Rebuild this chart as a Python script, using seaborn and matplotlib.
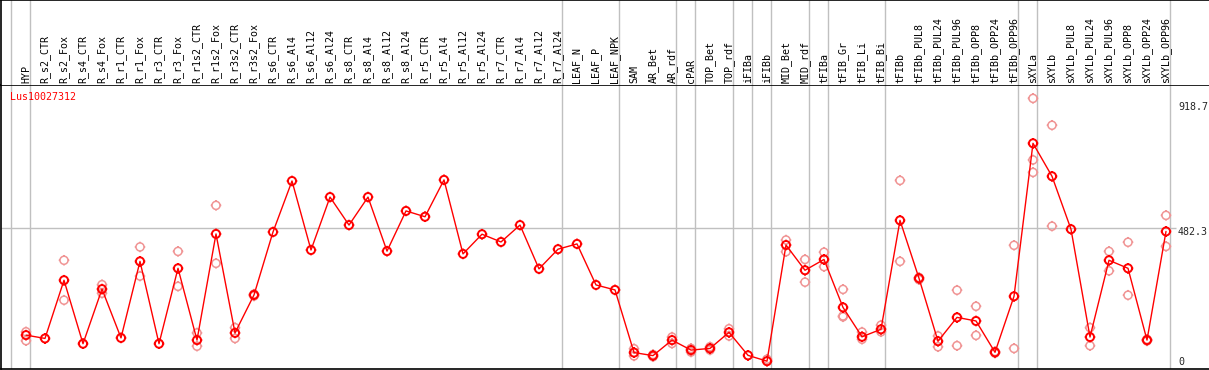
import numpy as np
import pandas as pd
import matplotlib
matplotlib.use("Agg")
import matplotlib.pyplot as plt
from matplotlib.path import Path
import seaborn as sns

categories = ["HYP", "R_s2_CTR", "R_s2_Fox", "R_s4_CTR", "R_s4_Fox", "R_r1_CTR", "R_r1_Fox",
              "R_r3_CTR", "R_r3_Fox", "R_r1s2_CTR", "R_r1s2_Fox", "R_r3s2_CTR", "R_r3s2_Fox",
              "R_s6_CTR", "R_s6_Al4", "R_s6_Al12", "R_s6_Al24", "R_s8_CTR", "R_s8_Al4", "R_s8_Al12",
              "R_s8_Al24", "R_r5_CTR", "R_r5_Al4", "R_r5_Al12", "R_r5_Al24", "R_r7_CTR", "R_r7_Al4",
              "R_r7_Al12", "R_r7_Al24", "LEAF_N", "LEAF_P", "LEAF_NPK", "SAM", "AR_Bet", "AR_rdf",
              "cPAR", "TOP_Bet", "TOP_rdf", "iFIBa", "iFIBb", "MID_Bet", "MID_rdf", "tFIBa",
              "tFIB_Gr", "tFIB_Li", "tFIB_Bi", "tFIBb", "tFIBb_PUL8", "tFIBb_PUL24", "tFIBb_PUL96",
              "tFIBb_OPP8", "tFIBb_OPP24", "tFIBb_OPP96", "sXYLa", "sXYLb", "sXYLb_PUL8",
              "sXYLb_PUL24", "sXYLb_PUL96", "sXYLb_OPP8", "sXYLb_OPP24", "sXYLb_OPP96"]

mean_values = [97, 85, 295, 66, 263, 87, 363, 66, 338, 79, 462, 105, 242,
               469, 653, 404, 595, 494, 595, 400, 545, 524, 657, 390, 461, 433, 494, 336, 407,
               426, 278, 260, 34, 23, 79, 43, 49, 107, 24, 3, 422, 331, 370, 197, 91, 118,
               511, 302, 75, 161, 148, 35, 237, 789, 670, 479, 90, 367, 338, 79, 471]

nan = np.nan
rep_a = [109, nan, 367, nan, 279, nan, 415, nan, 399, 105, 565, 124, 245,
         nan, nan, nan, nan, nan, nan, nan, nan, nan, nan, nan, nan, nan, nan, nan, nan,
         nan, nan, nan, 48, 27, 90, 49, 55, 120, nan, 10, 440, 370, 396, 262, 108, 133,
         655, 305, 94, 259, 201, 38, 421, 951, 854, nan, 124, 399, 432, 82, 529]
rep_b = [77, nan, 223, nan, 248, nan, 310, nan, 273, 57, 356, 85, 238,
         nan, nan, nan, nan, nan, nan, nan, nan, nan, nan, nan, nan, nan, nan, nan, nan,
         nan, nan, nan, 22, 19, 67, 36, 43, 94, nan, nan, 398, 288, 344, 166, 82, 109,
         363, 297, 55, 59, 96, 32, 49, 729, 490, nan, 59, 329, 241, 76, 417]
rep_c = [nan] * 43 + [163] + [nan] * 9 + [684] + [nan] * 7

# group separators: drawn just after these category indices
separator_after = [-1, 0, 28, 31, 34, 35, 37, 38, 39, 41, 42, 45, 52, 53, 60]
axis_top_label = 918.7
axis_mid_label = 482.3
title = "Lus10027312"

W, H = 1209, 370
fig = plt.figure(figsize=(W / 100, H / 100), dpi=100)
sns.set_style("white")
plt.rcParams["font.family"] = ["DejaVu Sans Mono", "DejaVu Sans"]

ax = fig.add_axes([1 / W, 1 / H, (W - 1) / W, 284 / H])
ax_top = fig.add_axes([1 / W, 285 / H, (W - 1) / W, 85 / H], sharex=ax)

x = np.arange(len(categories))
df_mean = pd.DataFrame({"x": x, "v": mean_values})
reps = []
for r in (rep_a, rep_b, rep_c):
    reps.append(pd.DataFrame({"x": x, "v": r}))
df_rep = pd.concat(reps).dropna()

# custom marker: polygonal circle with short ticks
n = 40
ang = np.linspace(0, 2 * np.pi, n + 1)
r0 = 0.76
cv = np.column_stack([r0 * np.cos(ang), r0 * np.sin(ang)])
cc = [Path.MOVETO] + [Path.LINETO] * n
tv = [(0, r0), (0, 1.0), (0, -r0), (0, -1.0), (r0, 0), (1.0, 0), (-r0, 0), (-1.0, 0)]
tc = [Path.MOVETO, Path.LINETO] * 4
marker = Path(np.vstack([cv, tv]), cc + tc)

xmin = (1 - 26) / 19.0
xmax = (1209 - 26) / 19.0
ymin = (362 - 369) / 0.2772
ymax = (362 - 85) / 0.2772

for a in (ax, ax_top):
    for s in separator_after:
        a.axvline(s + 0.21, color="#c0c0c0", lw=1, zorder=0)
ax.hlines(axis_mid_label, xmin, 60 + 0.21 + 0.3, color="#c0c0c0", lw=1, zorder=0)

sns.scatterplot(data=df_rep, x="x", y="v", ax=ax, marker=marker, s=58,
                facecolors="none", edgecolor="#f09494", linewidth=1.1, zorder=2, legend=False)
sns.lineplot(data=df_mean, x="x", y="v", ax=ax, color="#ff0000", lw=1, zorder=3, legend=False)
sns.scatterplot(data=df_mean, x="x", y="v", ax=ax, marker=marker, s=58,
                facecolors="none", edgecolor="#ff0000", linewidth=1.4, zorder=4, legend=False)

ax.set_xlim(xmin, xmax)
ax.set_ylim(ymin, ymax)
ax.set_xlabel("")
ax.set_ylabel("")
ax.set_xticks([])
ax.set_yticks([])
for sp in ("left", "top", "bottom"):
    ax.spines[sp].set_visible(True)
    ax.spines[sp].set_color("black")
    ax.spines[sp].set_linewidth(1.2)
ax.spines["right"].set_visible(False)

ax_top.set_ylim(0, 85)
ax_top.set_xticks([])
ax_top.set_yticks([])
ax_top.tick_params(labelbottom=False)
for sp in ("left", "top"):
    ax_top.spines[sp].set_visible(True)
    ax_top.spines[sp].set_color("black")
    ax_top.spines[sp].set_linewidth(1.2)
ax_top.spines["right"].set_visible(False)
ax_top.spines["bottom"].set_visible(False)

fs = 7.2
for i, c in enumerate(categories):
    ax_top.text(i, 2, c, rotation=90, ha="center", va="bottom", fontsize=fs,
                color="black", family="DejaVu Sans Mono")

ax.text(9 / 19.0 + xmin, ymax - 12 / 0.2772, title, color="#ff0000", fontsize=fs,
        ha="left", va="center", family="DejaVu Sans Mono")

xl = (1178 - 26) / 19.0
ax.text(xl, axis_top_label, f"{axis_top_label}", fontsize=fs, ha="left", va="center",
        family="DejaVu Sans Mono")
ax.annotate(f"{axis_mid_label}", (xl, axis_mid_label), xytext=(0, -3), textcoords="offset points",
            fontsize=fs, ha="left", va="center", family="DejaVu Sans Mono")
ax.text(xl, 0, "0", fontsize=fs, ha="left", va="center", family="DejaVu Sans Mono")

fig.savefig("out.png", dpi=100)
